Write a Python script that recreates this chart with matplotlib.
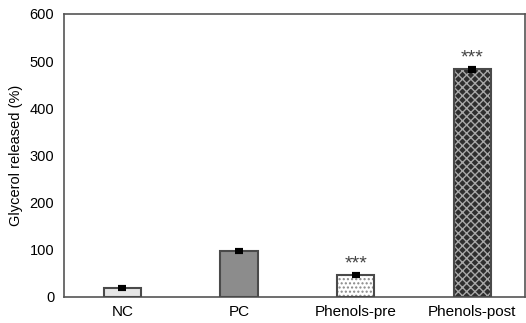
import matplotlib
matplotlib.use('Agg')
import matplotlib.pyplot as plt

plt.rcParams['font.family'] = ['Liberation Sans', 'DejaVu Sans']
plt.rcParams['hatch.linewidth'] = 1.0

groups = ['NC', 'PC', 'Phenols-pre', 'Phenols-post']
values = [20, 98, 47, 483]
errors = [2, 2, 2, 3]
marks = ['', '', '***', '***']

faces = ['#e6e6e6', '#8c8c8c', '#ffffff', '#2e2e2e']
hatches = [None, None, '....', 'xxxx']
hatch_cols = ['#555555', '#555555', '#888888', '#a8a8a8']

fig = plt.figure(figsize=(5.26, 3.23), dpi=100)
ax = fig.add_axes([0.1217, 0.0805, 0.8763, 0.8762])

x = list(range(len(groups)))
for i in x:
    ax.bar(i, values[i], width=0.32, color=faces[i], edgecolor=hatch_cols[i],
           hatch=hatches[i], linewidth=0, zorder=2)
    ax.bar(i, values[i], width=0.32, color='none', edgecolor='#4a4a4a',
           linewidth=1.5, zorder=3)
    ax.errorbar(i, values[i], yerr=errors[i], fmt='none', ecolor='black',
                elinewidth=1.5, capsize=3, capthick=3, zorder=4)
    if marks[i]:
        ax.text(i, values[i] + 5, marks[i], ha='center', va='bottom',
                fontsize=14, color='#444444')

ax.set_xlim(-0.5, 3.45)
ax.set_ylim(0, 600)
ax.set_yticks([0, 100, 200, 300, 400, 500, 600])
ax.set_xticks(x)
ax.set_xticklabels(groups)
ax.tick_params(axis='y', length=0, labelsize=10.5, pad=7)
ax.tick_params(axis='x', length=0, labelsize=11, pad=6)
ax.set_ylabel('Glycerol released (%)', fontsize=10.5, labelpad=5)
for s in ax.spines.values():
    s.set_color('#555555')
    s.set_linewidth(1.2)

fig.savefig('out.png', dpi=100)
